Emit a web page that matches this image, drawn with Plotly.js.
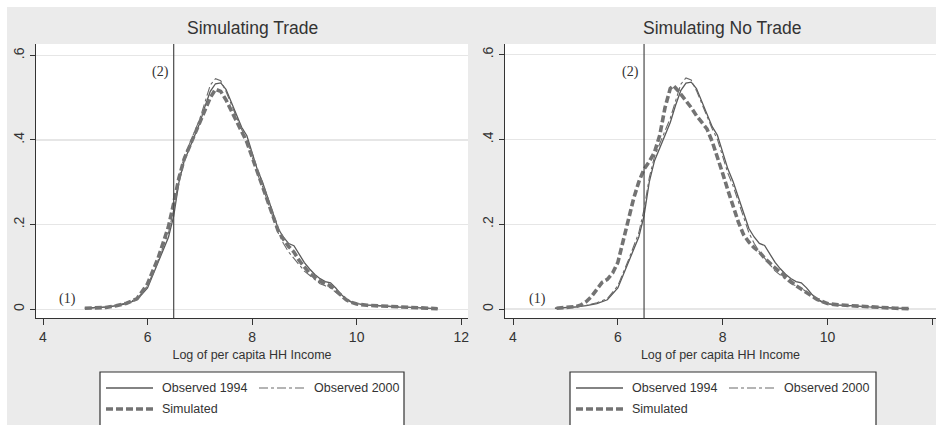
<!DOCTYPE html>
<html>
<head>
<meta charset="utf-8">
<script src="https://cdn.plot.ly/plotly-3.0.1.min.js"></script>
<style>
html,body{margin:0;padding:0;background:#ffffff;width:936px;height:425px;overflow:hidden;}
#chart{position:absolute;left:7px;top:7px;width:929px;height:418px;}
</style>
</head>
<body>
<div id="chart"></div>
<script>
// ---- Data ----
const obsX = [4.8,5.0,5.2,5.4,5.6,5.8,6.0,6.2,6.4,6.5,6.6,6.7,6.8,6.9,7.0,7.1,7.2,7.3,7.4,7.5,7.6,7.7,7.8,7.9,8.0,8.1,8.2,8.3,8.4,8.5,8.6,8.7,8.8,8.9,9.0,9.1,9.2,9.3,9.4,9.5,9.6,9.7,9.8,9.9,10.0,10.2,10.5,10.8,11.0,11.3,11.55];
const obs1994 = [0.002,0.003,0.005,0.008,0.013,0.022,0.05,0.11,0.17,0.22,0.30,0.35,0.38,0.41,0.44,0.48,0.515,0.533,0.535,0.52,0.49,0.46,0.43,0.41,0.37,0.33,0.30,0.265,0.225,0.19,0.17,0.155,0.15,0.13,0.11,0.095,0.082,0.072,0.065,0.062,0.05,0.035,0.024,0.017,0.013,0.01,0.007,0.005,0.004,0.002,0.001];
const obs2000 = [0.002,0.003,0.005,0.009,0.015,0.025,0.055,0.115,0.18,0.235,0.31,0.36,0.39,0.42,0.45,0.49,0.53,0.545,0.54,0.515,0.485,0.455,0.425,0.40,0.36,0.32,0.29,0.255,0.215,0.18,0.155,0.135,0.12,0.105,0.09,0.08,0.07,0.06,0.055,0.05,0.04,0.03,0.022,0.016,0.012,0.009,0.007,0.005,0.004,0.002,0.001];
const simTrade = [0.002,0.002,0.004,0.008,0.014,0.025,0.06,0.12,0.195,0.25,0.31,0.355,0.385,0.41,0.44,0.47,0.50,0.52,0.515,0.495,0.47,0.445,0.42,0.395,0.36,0.325,0.29,0.255,0.22,0.185,0.165,0.148,0.135,0.115,0.10,0.085,0.075,0.066,0.06,0.055,0.044,0.032,0.022,0.016,0.012,0.009,0.007,0.005,0.003,0.002,0.001];
const simNoTradeX = [4.83,5.0,5.2,5.3,5.4,5.5,5.6,5.7,5.8,5.9,6.0,6.1,6.2,6.3,6.4,6.5,6.6,6.7,6.8,6.9,7.0,7.06,7.15,7.25,7.4,7.5,7.6,7.7,7.8,7.9,8.0,8.1,8.2,8.3,8.4,8.5,8.6,8.7,8.8,8.9,9.0,9.1,9.2,9.3,9.4,9.5,9.6,9.7,9.8,9.9,10.0,10.2,10.5,10.8,11.0,11.3,11.55];
const simNoTrade = [0.002,0.003,0.006,0.01,0.018,0.03,0.048,0.063,0.07,0.085,0.11,0.16,0.21,0.26,0.30,0.33,0.348,0.37,0.41,0.475,0.52,0.527,0.515,0.5,0.475,0.456,0.44,0.425,0.395,0.36,0.32,0.28,0.24,0.205,0.175,0.158,0.145,0.135,0.12,0.108,0.097,0.087,0.075,0.065,0.055,0.047,0.038,0.03,0.023,0.018,0.013,0.01,0.007,0.005,0.004,0.002,0.001];
const panelTitles = ["Simulating Trade", "Simulating No Trade"];
const xTicks = [4,6,8,10,12];
const yTicks = [0,0.2,0.4,0.6];
const yTickText = ["0",".2",".4",".6"];
const cutoffX = 6.5;
const legendNames = ["Observed 1994","Observed 2000","Simulated"];

// ---- Styling ----
const FONT = '"Liberation Sans",Arial,sans-serif';
const SERIF = '"Liberation Serif","Times New Roman",serif';
const TXT = '#333333';
const solidStyle = {color:'#5a5a5a', width:1.3, dash:'solid'};
const dashdotStyle = {color:'#6a6a6a', width:1.1, dash:'dashdot'};
const simStyle = {color:'#737373', width:3.6, dash:'7px,3px'};

// geometry helpers (div is offset 7px inside a 936x425 page)
const W = 929, H = 418, ML = 29, MR = 0, MT = 37, MB = 107;
const PW = W - ML - MR, PH = H - MT - MB;
const px = (pageX) => (pageX - 7 - ML) / PW;
const py = (pageY) => (H - MB - (pageY - 7)) / PH;

const traces = [];
function addPanel(xa, ya, simX, simY) {
  traces.push({x: obsX, y: obs1994, xaxis: xa, yaxis: ya, mode: 'lines', line: solidStyle, name: legendNames[0], showlegend: false, hoverinfo: 'skip'});
  traces.push({x: obsX, y: obs2000, xaxis: xa, yaxis: ya, mode: 'lines', line: dashdotStyle, name: legendNames[1], showlegend: false, hoverinfo: 'skip'});
  traces.push({x: simX, y: simY, xaxis: xa, yaxis: ya, mode: 'lines', line: simStyle, name: legendNames[2], showlegend: false, hoverinfo: 'skip'});
}
addPanel('x', 'y', obsX, simTrade);
addPanel('x2', 'y2', simNoTradeX, simNoTrade);

function xAxis(domain, range, anchor) {
  return {
    domain: domain, range: range, anchor: anchor,
    tickvals: xTicks, ticks: 'outside', ticklen: 6, tickwidth: 1, tickcolor: '#333',
    showline: true, linecolor: '#333', linewidth: 1.2,
    showgrid: false, zeroline: false,
    tickfont: {family: FONT, size: 14, color: TXT},
    title: {text: 'Log of per capita HH Income', font: {family: FONT, size: 12.5, color: TXT}, standoff: 6}
  };
}
function yAxis(range, anchor) {
  return {
    range: range, anchor: anchor, domain: [0,1],
    tickvals: yTicks, ticktext: yTickText, tickangle: -90,
    ticks: 'outside', ticklen: 5, tickwidth: 1, tickcolor: '#333',
    showline: true, linecolor: '#333', linewidth: 1.2,
    showgrid: true, gridcolor: '#e6e6e6', gridwidth: 1.2, zeroline: false,
    tickfont: {family: FONT, size: 14, color: TXT}
  };
}

const shapes = [];
const annotations = [];

// cutoff lines, markers and panel titles
['x','x2'].forEach((xa, i) => {
  const ya = i === 0 ? 'y' : 'y2';
  shapes.push({type: 'line', xref: xa, yref: ya + ' domain', x0: cutoffX, x1: cutoffX, y0: 0, y1: 1, line: {color: '#4a4a4a', width: 1.2}});
  annotations.push({xref: xa, yref: ya, x: 4.47, y: 0.024, text: '(1)', showarrow: false, font: {family: SERIF, size: 14, color: TXT}});
  annotations.push({xref: xa, yref: ya, x: 6.25, y: 0.56, text: '(2)', showarrow: false, font: {family: SERIF, size: 14, color: TXT}});
  annotations.push({xref: xa + ' domain', yref: 'paper', x: i === 0 ? (252 - 36) / (468 - 36) : (723 - 505) / (936 - 505), y: py(28), yanchor: 'middle', text: panelTitles[i], showarrow: false, font: {family: FONT, size: 17.5, color: TXT}});
});

// legends (manual boxes)
[0, 470].forEach((off) => {
  shapes.push({type: 'rect', xref: 'paper', yref: 'paper', x0: px(100 + off), x1: px(404 + off + (off ? 2 : 0)), y0: py(440), y1: py(372), fillcolor: 'white', line: {color: '#333', width: 1.2}, layer: 'above'});
  const rows = [
    {x0: 106, x1: 153, y: 388, style: solidStyle, tx: 160, name: legendNames[0]},
    {x0: 259, x1: 305, y: 388, style: dashdotStyle, tx: 312, name: legendNames[1]},
    {x0: 106, x1: 153, y: 409, style: simStyle, tx: 160, name: legendNames[2]}
  ];
  rows.forEach(r => {
    shapes.push({type: 'line', xref: 'paper', yref: 'paper', x0: px(r.x0 + off), x1: px(r.x1 + off), y0: py(r.y), y1: py(r.y), line: r.style, layer: 'above'});
    annotations.push({xref: 'paper', yref: 'paper', x: px(r.tx + off), y: py(r.y), xanchor: 'left', yanchor: 'middle', text: r.name, showarrow: false, font: {family: FONT, size: 12.5, color: TXT}});
  });
});

const layout = {
  width: W, height: H,
  margin: {l: ML, r: MR, t: MT, b: MB, pad: 0},
  paper_bgcolor: '#ebebeb', plot_bgcolor: '#ffffff',
  showlegend: false,
  xaxis: xAxis([0, 0.48], [3.866, 12.13], 'y'),
  yaxis: yAxis([-0.021, 0.627], 'x'),
  xaxis2: xAxis([0.5211, 1], [3.847, 12.07], 'y2'),
  yaxis2: yAxis([-0.021, 0.625], 'x2'),
  shapes: shapes,
  annotations: annotations
};

Plotly.newPlot('chart', traces, layout, {displayModeBar: false, staticPlot: true});
</script>
</body>
</html>
